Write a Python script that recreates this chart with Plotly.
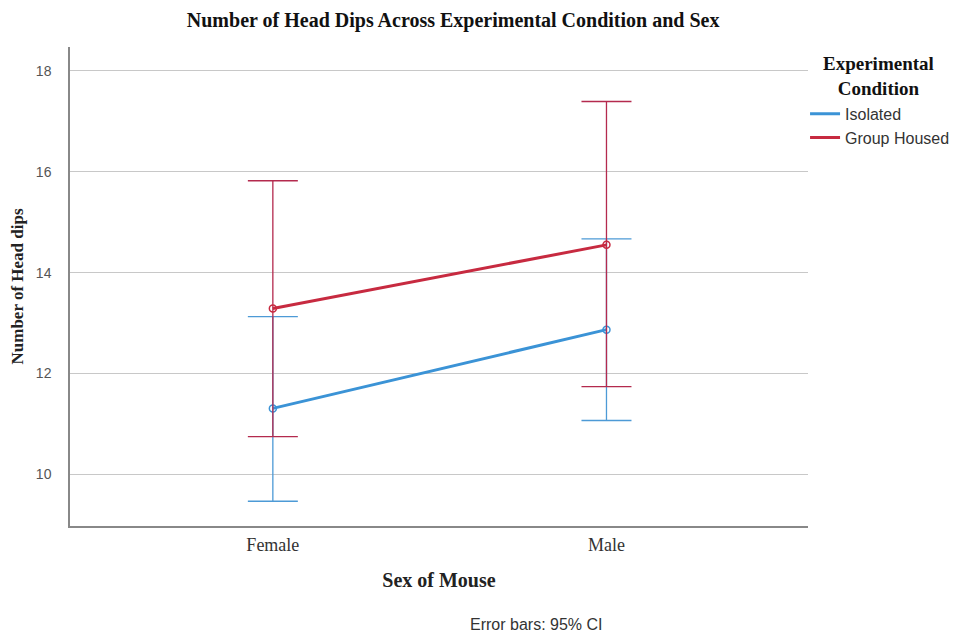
import plotly.graph_objects as go

sexes = ["Female", "Male"]
conditions = ["Isolated", "Group Housed"]
means = {"Isolated": [11.31, 12.87], "Group Housed": [13.29, 14.55]}
ci_low = {"Isolated": [9.47, 11.07], "Group Housed": [10.75, 11.74]}
ci_high = {"Isolated": [13.13, 14.67], "Group Housed": [15.82, 17.39]}
y_ticks = [10, 12, 14, 16, 18]

line_colors = {"Isolated": "#3b93d6", "Group Housed": "#c72a40"}
err_colors = {"Isolated": "#4d9ad6", "Group Housed": "#b42a4e"}

SERIF = "Liberation Serif"
SANS = "Liberation Sans"

fig = go.Figure()
for c in conditions:
    m = means[c]
    up = [h - v for h, v in zip(ci_high[c], m)]
    dn = [v - l for v, l in zip(m, ci_low[c])]
    fig.add_trace(go.Scatter(
        x=sexes, y=m, name=c, mode="lines+markers", showlegend=False, legendgroup=c,
        line=dict(color=line_colors[c], width=3),
        marker=dict(symbol="circle-open", size=7, color=line_colors[c], line=dict(width=1.5)),
        error_y=dict(type="data", array=up, arrayminus=dn, color=err_colors[c],
                     thickness=1.3, width=25, visible=True),
    ))
# legend entries: line only (as in the reference legend)
for c in conditions:
    fig.add_trace(go.Scatter(
        x=[None], y=[None], name=c, mode="lines", legendgroup=c, showlegend=True,
        line=dict(color=line_colors[c], width=3),
    ))

fig.update_layout(
    width=958, height=635,
    paper_bgcolor="white", plot_bgcolor="white",
    margin=dict(l=70, r=150, t=47, b=109, autoexpand=False),
    title=dict(text="<b>Number of Head Dips Across Experimental Condition and Sex</b>",
               x=0.473, xanchor="center", y=0.968, yanchor="middle",
               font=dict(family=SERIF, size=20, color="#111")),
    showlegend=True,
    legend=dict(x=0.996, xanchor="left", y=0.896, yanchor="top",
                font=dict(family=SANS, size=16, color="#333"),
                itemwidth=30, tracegroupgap=0, bgcolor="rgba(0,0,0,0)"),
    xaxis=dict(type="category", range=[-0.608, 1.604],
               showline=True, linecolor="#888", linewidth=1.5,
               showgrid=False, ticks="", zeroline=False, ticklabelstandoff=2,
               tickfont=dict(family=SERIF, size=18, color="#333"),
               title=dict(text="<b>Sex of Mouse</b>", font=dict(family=SERIF, size=20, color="#222"),
                          standoff=19)),
    yaxis=dict(range=[8.98, 18.47], tickvals=y_ticks,
               showline=True, linecolor="#888", linewidth=1.5,
               showgrid=True, gridcolor="#c8c8c8", gridwidth=1, zeroline=False,
               ticks="", ticklabelstandoff=14,
               tickfont=dict(family=SANS, size=14, color="#555"),
               title=dict(text="<b>Number of Head dips</b>", font=dict(family=SERIF, size=17, color="#222"),
                          standoff=8)),
    annotations=[
        dict(text="<b>Experimental<br>Condition</b>", xref="paper", yref="paper",
             x=1.095, y=0.939, xanchor="center", yanchor="middle", showarrow=False,
             font=dict(family=SERIF, size=19, color="#111")),
        dict(text="Error bars: 95% CI", xref="paper", yref="paper",
             x=0.632, y=-0.205, xanchor="center", yanchor="middle", showarrow=False,
             font=dict(family=SANS, size=16, color="#333")),
    ],
)

fig.write_html("out.html")
